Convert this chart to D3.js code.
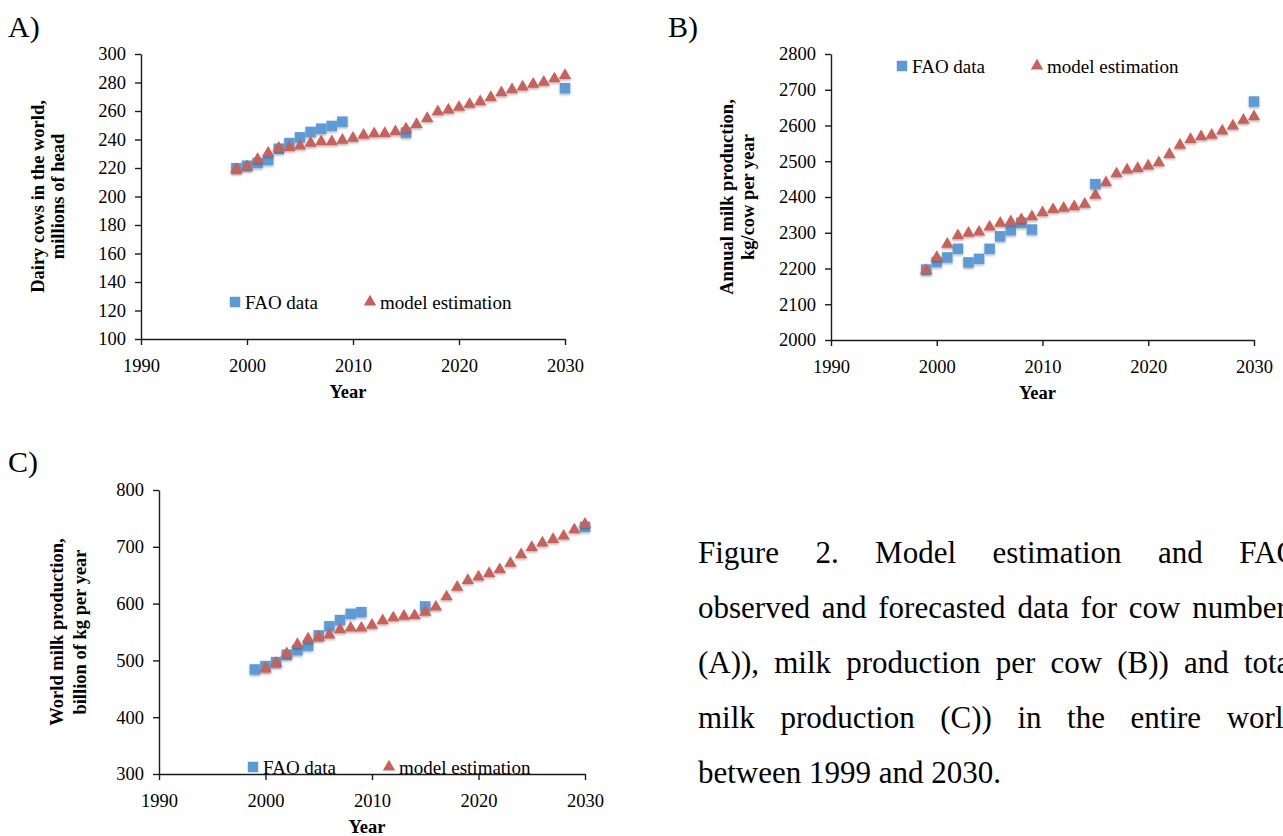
<!DOCTYPE html>
<html>
<head>
<meta charset="utf-8">
<script src="https://cdn.jsdelivr.net/npm/d3@7"></script>
<style>
  body { margin: 0; background: #fff; width: 1283px; height: 836px; overflow: hidden; position: relative;
         font-family: "Liberation Serif", "Times New Roman", serif; }
  svg { position: absolute; left: 0; top: 0; font-family: "Liberation Serif", "Times New Roman", serif; }
  .axis .domain, .axis line { stroke: #1a1a1a; stroke-width: 1.4; }
  .axis text { font-family: "Liberation Serif", serif; font-size: 18.5px; fill: #000; }
  #caption { position: absolute; left: 698px; top: 525px; font-size: 31px; line-height: 55px; color: #000; }
  #caption div { width: 601px; white-space: nowrap; }
  #caption div.just { text-align: justify; text-align-last: justify; white-space: normal; }
</style>
</head>
<body>
<svg id="chart" width="1283" height="836"></svg>
<div id="caption"></div>
<script>
const yearTicks = [1990, 2000, 2010, 2020, 2030];
const faoYears = [1999, 2000, 2001, 2002, 2003, 2004, 2005, 2006, 2007, 2008, 2009, 2015, 2030];
const modelYears = d3.range(1999, 2031);
const modelYearsC = d3.range(2000, 2031);

// A) dairy cows, millions of head
const cowsFao = [219.8, 221.6, 223.5, 225.6, 233.5, 237.5, 241.5, 245.3, 247.6, 249.5, 252.5, 244.8, 276];
const cowsModel = [219, 221, 226, 230.5, 234, 234.5, 235.5, 237.5, 238.5, 238.5, 239.5, 241, 243, 244, 244.3, 245.5,
                   247.5, 250.6, 254.8, 259.5, 260.7, 262.6, 264.7, 266.5, 269.6, 272.9, 275, 276.9, 278.9, 280.2, 282.6, 285];
const cowsTicks = [100, 120, 140, 160, 180, 200, 220, 240, 260, 280, 300];

// B) milk per cow, kg/cow per year
const yieldFao = [2197, 2218, 2231, 2255, 2217, 2227, 2255, 2290, 2307, 2328, 2309, 2436, 2667];
const yieldModel = [2195, 2231, 2268, 2292, 2299, 2302, 2316, 2327, 2331, 2337, 2345, 2356, 2365, 2369, 2373, 2380,
                    2405, 2440, 2465, 2476, 2480, 2487, 2496, 2519, 2545, 2561, 2569, 2573, 2585, 2599, 2615, 2625];
const yieldTicks = [2000, 2100, 2200, 2300, 2400, 2500, 2600, 2700, 2800];

// C) world milk, billion kg per year
const milkFao = [484, 490, 497, 510, 518, 526, 544, 560, 571, 582, 585, 595, 735];
const milkModel = [485, 495, 512, 528, 538, 541, 545, 554, 557, 557, 562, 570, 575, 578, 579, 585,
                   594, 612, 629, 641, 647, 653, 660, 671, 686, 699, 707, 713, 719, 730, 740];
const milkTicks = [300, 400, 500, 600, 700, 800];

const legendLabels = ["FAO data", "model estimation"];
const captionLines = [
  "Figure 2. Model estimation and FAO",
  "observed and forecasted data for cow numbers",
  "(A)), milk production per cow (B)) and total",
  "milk production (C)) in the entire world",
  "between 1999 and 2030."
];

const blue = "#5b9bd5", red = "#c9605a";
const svg = d3.select("#chart");

const defs = svg.append("defs");
defs.append("filter").attr("id", "shadow").attr("x", "-50%").attr("y", "-50%").attr("width", "200%").attr("height", "200%")
  .append("feDropShadow").attr("dx", 0).attr("dy", 1.5).attr("stdDeviation", 1).attr("flood-color", "#000").attr("flood-opacity", 0.3);

const tri = d3.symbol(d3.symbolTriangle, 66);
const sq = 10.5;

function drawPanel(p) {
  const x = d3.scaleLinear().domain([1990, 2030]).range([p.x0, p.x1]);
  const y = d3.scaleLinear().domain([p.ticks[0], p.ticks[p.ticks.length - 1]]).range([p.y0, p.y1]);
  const g = svg.append("g");

  g.append("g").attr("class", "axis").attr("transform", `translate(${p.x0},0)`)
    .call(d3.axisLeft(y).tickValues(p.ticks).tickFormat(d3.format("d")).tickSize(6).tickSizeOuter(0).tickPadding(9));
  g.append("g").attr("class", "axis").attr("transform", `translate(0,${p.y0})`)
    .call(d3.axisBottom(x).tickValues(yearTicks).tickFormat(d3.format("d")).tickSize(6).tickSizeOuter(0).tickPadding(14));

  g.append("text").attr("x", (p.x0 + p.x1) / 2 - 5).attr("y", p.y0 + 59)
    .attr("text-anchor", "middle").attr("font-size", 18.5).attr("font-weight", "bold").text("Year");

  const yc = (p.y0 + p.y1) / 2;
  p.yTitle.forEach((t, i) => {
    g.append("text").attr("transform", `translate(${p.titleX[i]},${yc}) rotate(-90)`)
      .attr("text-anchor", "middle").attr("dy", "0.35em").attr("font-size", 18.5).attr("font-weight", "bold").text(t);
  });

  g.append("text").attr("x", p.lx).attr("y", p.ly).attr("font-size", 30).text(p.label);

  g.append("g").attr("filter", "url(#shadow)").selectAll("rect").data(p.fao).join("rect")
    .attr("x", (d, i) => x(faoYears[i]) - sq / 2).attr("y", d => y(d) - sq / 2)
    .attr("width", sq).attr("height", sq).attr("fill", blue);

  g.append("g").attr("filter", "url(#shadow)").selectAll("path").data(p.model).join("path")
    .attr("d", tri).attr("transform", (d, i) => `translate(${x(p.modelYears[i])},${y(d)})`).attr("fill", red);

  // legend
  const lg = g.append("g");
  lg.append("rect").attr("x", p.leg[0] - sq / 2).attr("y", p.leg[1] - sq / 2).attr("width", sq).attr("height", sq).attr("fill", blue);
  lg.append("text").attr("x", p.leg[0] + 10).attr("y", p.leg[1]).attr("dy", "0.35em").attr("font-size", 19).text(legendLabels[0]);
  lg.append("path").attr("d", tri).attr("transform", `translate(${p.leg[2]},${p.leg[1]})`).attr("fill", red);
  lg.append("text").attr("x", p.leg[2] + 10).attr("y", p.leg[1]).attr("dy", "0.35em").attr("font-size", 19).text(legendLabels[1]);
}

drawPanel({ x0: 141, x1: 565, y0: 339, y1: 54, ticks: cowsTicks, fao: cowsFao, model: cowsModel, modelYears: modelYears,
  yTitle: ["Dairy cows in the world,", "millions of head"], titleX: [38, 58], label: "A)", lx: 8, ly: 37, leg: [235, 302, 370] });
drawPanel({ x0: 831, x1: 1254, y0: 340, y1: 54, ticks: yieldTicks, fao: yieldFao, model: yieldModel, modelYears: modelYears,
  yTitle: ["Annual milk production,", "kg/cow per year"], titleX: [727, 748], label: "B)", lx: 668, ly: 37, leg: [902, 66, 1037] });
drawPanel({ x0: 159, x1: 585, y0: 774, y1: 490, ticks: milkTicks, fao: milkFao, model: milkModel, modelYears: modelYearsC,
  yTitle: ["World milk production,", "billion of kg per year"], titleX: [57, 80], label: "C)", lx: 8, ly: 472, leg: [253, 767, 389] });

d3.select("#caption").selectAll("div").data(captionLines).join("div")
  .attr("class", (d, i) => i < captionLines.length - 1 ? "just" : null)
  .text(d => d);
</script>
</body>
</html>
